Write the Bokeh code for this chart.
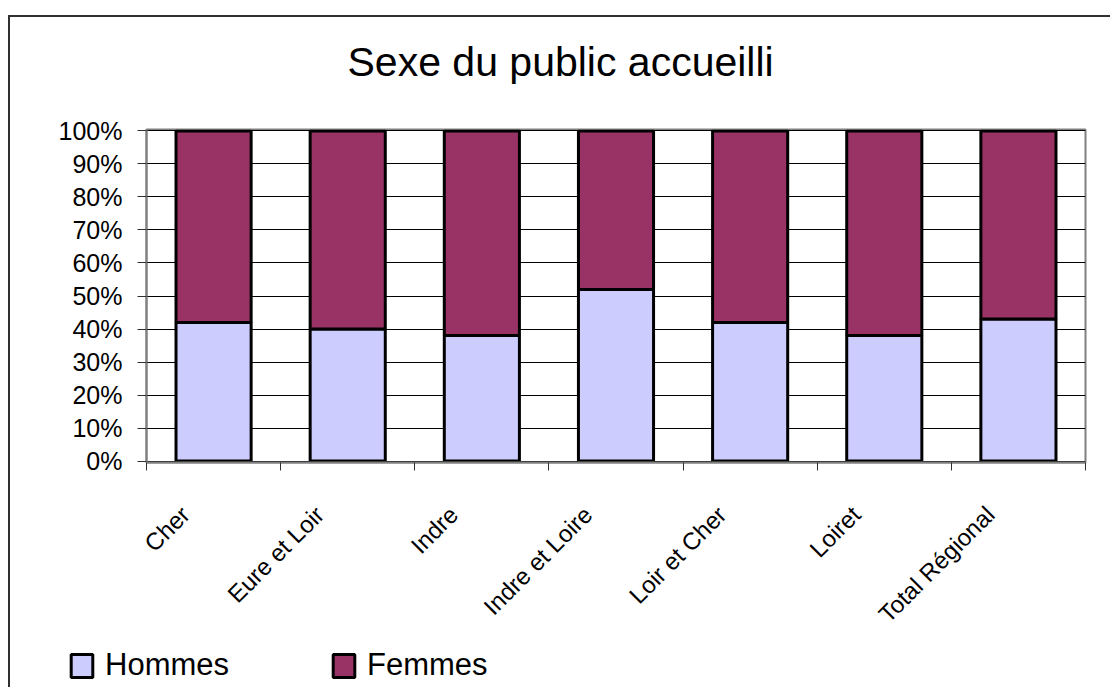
from bokeh.plotting import figure
from bokeh.layouts import column
from bokeh.models import (Range1d, FixedTicker, PrintfTickFormatter, CustomJSTickFormatter,
                          Legend, LegendItem, ColumnDataSource, Title)
from bokeh.embed import file_html
from bokeh.resources import INLINE

categories = ["Cher", "Eure et Loir", "Indre", "Indre et Loire", "Loir et Cher", "Loiret", "Total Régional"]
hommes = [42, 40, 38, 52, 42, 38, 43]
femmes = [58, 60, 62, 48, 58, 62, 57]
series = ["Hommes", "Femmes"]
colors = ["#CCCCFF", "#993366"]
y_ticks = [0, 10, 20, 30, 40, 50, 60, 70, 80, 90, 100]
title_text = "Sexe du public accueilli"

FONT = "Liberation Sans"

x = list(range(len(categories)))
src = ColumnDataSource(dict(x=x, Hommes=hommes, Femmes=femmes))

p = figure(width=1100, height=623, output_backend="svg", toolbar_location=None,
           x_range=Range1d(-0.5, len(categories) - 0.5), y_range=Range1d(-0.45, 100.45),
           min_border_left=136, min_border_top=112, min_border_right=25, min_border_bottom=175,
           tools="")

p.title.text = title_text
p.title.align = "left"
p.title.offset = 201
p.title.vertical_align = "top"
p.title.text_font = FONT
p.title.text_font_size = "41px"
p.title.text_font_style = "normal"
p.title.text_color = "#000000"
try:
    p.title.standoff = 10
except Exception:
    pass
# empty spacer between the title and the plot area
p.add_layout(Title(text=" ", text_font_size="20px", standoff=14), "above")

renderers = p.vbar_stack(series, x="x", width=0.56, source=src, fill_color=colors,
                         line_color="black", line_width=3)

p.outline_line_color = "#808080"
p.outline_line_width = 2
p.background_fill_color = "white"
p.border_fill_color = "white"

# y axis
p.yaxis.ticker = FixedTicker(ticks=y_ticks)
p.yaxis.formatter = PrintfTickFormatter(format="%d%%")
p.yaxis.major_label_text_font = FONT
p.yaxis.major_label_text_font_size = "25px"
p.yaxis.major_label_text_color = "black"
p.yaxis.axis_line_color = "#808080"
p.yaxis.axis_line_width = 2
p.yaxis.major_tick_out = 9
p.yaxis.major_tick_in = 0
p.yaxis.major_tick_line_color = "#303030"
p.yaxis.minor_tick_line_color = None
p.yaxis.major_label_standoff = 15

# x axis: labels near category centers, ticks at boundaries
centers = [i - 0.21 for i in x]
bounds = [i - 0.5 for i in x] + [len(categories) - 0.5]
p.xaxis.ticker = FixedTicker(ticks=centers, minor_ticks=bounds)
p.xaxis.formatter = CustomJSTickFormatter(args=dict(names=categories),
                                          code="return names[Math.round(tick)] || '';")
p.xaxis.major_tick_out = 0
p.xaxis.major_tick_in = 0
p.xaxis.minor_tick_out = 8
p.xaxis.minor_tick_in = 0
p.xaxis.minor_tick_line_color = "#303030"
p.xaxis.axis_line_color = "#808080"
p.xaxis.axis_line_width = 2
p.xaxis.major_label_orientation = 0.785398
p.xaxis.major_label_text_font = FONT
p.xaxis.major_label_text_font_size = "24px"
p.xaxis.major_label_text_color = "black"
p.xaxis.major_label_standoff = 40

p.xgrid.grid_line_color = None
p.ygrid.ticker = FixedTicker(ticks=y_ticks)
p.ygrid.grid_line_color = "black"
p.ygrid.grid_line_width = 1

# legend strip (separate figure so that the legend is not clipped);
# its renderers share the data, drawn with zero width outside the visible range
p2 = figure(frame_width=1100, frame_height=47, output_backend="svg", toolbar_location=None,
            x_range=Range1d(-0.5, len(categories) - 0.5), y_range=Range1d(150, 250), tools="",
            min_border_left=0, min_border_right=0, min_border_top=0, min_border_bottom=0)
p2.axis.visible = False
p2.grid.grid_line_color = None
p2.outline_line_color = None
p2.background_fill_color = "white"
p2.border_fill_color = "white"
legend_renderers = p2.vbar_stack(series, x="x", width=0, source=src, fill_color=colors,
                                 line_color="black", line_width=3)
legend = Legend(items=[LegendItem(label=s, renderers=[r]) for s, r in zip(series, legend_renderers)],
                orientation="horizontal", location=(58, 4),
                glyph_width=27, glyph_height=29, label_standoff=10, spacing=101,
                padding=0, margin=0, border_line_color=None, background_fill_alpha=0,
                label_text_font=FONT, label_text_font_size="31px", label_text_color="black")
p2.add_layout(legend, "center")

layout = column(p, p2, spacing=0)
layout.margin = (15, 0, 0, 8)
layout.styles = {"border-left": "2px solid #303030", "border-top": "2px solid #303030"}

open("out.html", "w").write(file_html(layout, INLINE))
